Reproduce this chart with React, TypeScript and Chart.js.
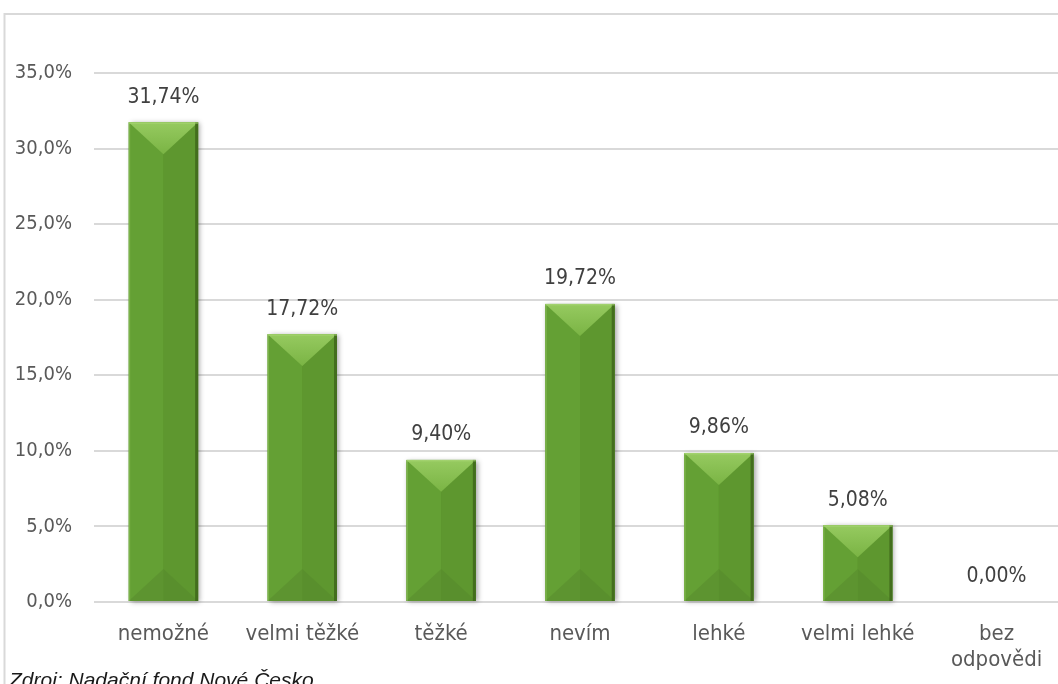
import React, { useEffect, useRef } from "react";
import { Chart, registerables } from "chart.js";

Chart.register(...registerables);

const categories: (string | string[])[] = [
  "nemožné",
  "velmi těžké",
  "těžké",
  "nevím",
  "lehké",
  "velmi lehké",
  ["bez", "odpovědi"],
];
const values: number[] = [31.74, 17.72, 9.4, 19.72, 9.86, 5.08, 0.0];
const yTicksMax = 35;
const yTicksStep = 5;
const sourceText = "Zdroj: Nadační fond Nové Česko";

const W = 1070;
const H = 700;
const PLOT_LEFT = 94;
const PLOT_TOP = 73;
const PLOT_BOTTOM = 602;
const FONT = "'DejaVu Sans Condensed', 'DejaVu Sans', sans-serif";

const fmt = (v: number, d: number) => v.toFixed(d).replace(".", ",") + "%";

const decorPlugin = {
  id: "decor",
  beforeDraw(chart: any) {
    const ctx = chart.ctx;
    ctx.save();
    ctx.strokeStyle = "#d9d9d9";
    ctx.lineWidth = 2;
    ctx.strokeRect(4.5, 14, 3000, 3000);
    ctx.restore();
  },
  afterDatasetsDraw(chart: any) {
    const ctx = chart.ctx;
    const meta = chart.getDatasetMeta(0);
    meta.data.forEach((el: any, i: number) => {
      const { x, y, base, width } = el.getProps(["x", "y", "base", "width"], true);
      const h = base - y;
      const l = x - width / 2;
      const r = x + width / 2;
      if (h > 0.5) {
        const d = Math.min(width * 0.46, h / 2);
        ctx.save();
        ctx.shadowColor = "rgba(0,0,0,0.35)";
        ctx.shadowBlur = 5;
        ctx.shadowOffsetX = 2;
        ctx.shadowOffsetY = 1;
        ctx.fillStyle = "#5e972f";
        ctx.fillRect(l, y, width, h);
        ctx.restore();
        ctx.save();
        ctx.fillStyle = "#64a034";
        ctx.fillRect(l, y, width / 2, h);
        ctx.fillStyle = "#5e972f";
        ctx.fillRect(x, y, width / 2, h);
        ctx.beginPath();
        ctx.moveTo(l, base);
        ctx.lineTo(x, base - d);
        ctx.lineTo(x, base);
        ctx.closePath();
        ctx.fillStyle = "#5d9430";
        ctx.fill();
        ctx.beginPath();
        ctx.moveTo(r, base);
        ctx.lineTo(x, base - d);
        ctx.lineTo(x, base);
        ctx.closePath();
        ctx.fillStyle = "#598f2d";
        ctx.fill();
        const g = ctx.createLinearGradient(0, y, 0, y + d);
        g.addColorStop(0, "#96ca60");
        g.addColorStop(1, "#7ab444");
        ctx.beginPath();
        ctx.moveTo(l, y);
        ctx.lineTo(r, y);
        ctx.lineTo(x, y + d);
        ctx.closePath();
        ctx.fillStyle = g;
        ctx.fill();
        ctx.fillStyle = "rgba(60,100,25,0.8)";
        ctx.fillRect(r - 3, y, 3, h);
        ctx.fillStyle = "rgba(150,200,100,0.45)";
        ctx.fillRect(l, y, 1.5, h);
        ctx.fillStyle = "rgba(170,215,120,0.6)";
        ctx.fillRect(l, y, width, 1.5);
        ctx.restore();
      }
      ctx.save();
      ctx.font = "21px " + FONT;
      ctx.fillStyle = "#404040";
      ctx.textAlign = "center";
      ctx.textBaseline = "middle";
      ctx.fillText(fmt(values[i], 2), x, y - 25);
      ctx.restore();
    });
  },
  afterDraw(chart: any) {
    const ctx = chart.ctx;
    ctx.save();
    ctx.font = "italic 21px 'Liberation Sans'";
    ctx.fillStyle = "#1a1a1a";
    ctx.textAlign = "left";
    ctx.textBaseline = "alphabetic";
    ctx.fillText(sourceText, 9, 687);
    ctx.restore();
  },
};

export default function App() {
  const ref = useRef<HTMLCanvasElement>(null);
  useEffect(() => {
    if (!ref.current) return;
    const chart = new Chart(ref.current, {
      type: "bar",
      data: {
        labels: categories,
        datasets: [
          {
            data: values,
            backgroundColor: "rgba(0,0,0,0)",
            borderWidth: 0,
            barPercentage: 0.5,
            categoryPercentage: 1,
          },
        ],
      },
      plugins: [decorPlugin],
      options: {
        responsive: false,
        animation: false,
        devicePixelRatio: 1,
        layout: { padding: { top: PLOT_TOP, left: 0, right: 4, bottom: 0 } },
        plugins: {
          legend: { display: false },
          tooltip: { enabled: false },
          title: { display: false },
        },
        scales: {
          x: {
            grid: { display: false, drawTicks: false },
            border: { display: false },
            ticks: {
              color: "#595959",
              font: { family: FONT, size: 22, lineHeight: 1.2 },
              padding: 19,
              maxRotation: 0,
              autoSkip: false,
            },
            afterFit: (s: any) => {
              s.height = H - PLOT_BOTTOM;
            },
          },
          y: {
            min: 0,
            max: yTicksMax,
            grid: { color: "#d9d9d9", lineWidth: 2, drawTicks: false },
            border: { display: false },
            ticks: {
              stepSize: yTicksStep,
              color: "#595959",
              font: { family: FONT, size: 20 },
              padding: 22,
              callback: (v: any) => fmt(Number(v), 1),
            },
            afterFit: (s: any) => {
              s.width = PLOT_LEFT;
            },
          },
        },
      },
    });
    return () => chart.destroy();
  }, []);
  return (
    <div
      style={{
        position: "fixed",
        left: 0,
        top: 0,
        width: 1058,
        height: 684,
        overflow: "hidden",
        background: "#fff",
      }}
    >
      <canvas ref={ref} width={W} height={H} style={{ display: "block", width: W, height: H }} />
    </div>
  );
}
